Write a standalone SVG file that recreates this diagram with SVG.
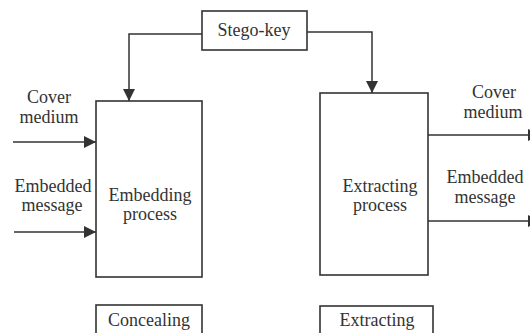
<svg xmlns="http://www.w3.org/2000/svg" width="530" height="333" viewBox="0 0 530 333">
<defs>
<marker id="ah" viewBox="0 0 12 12" refX="12" refY="6" markerWidth="12" markerHeight="12" markerUnits="userSpaceOnUse" orient="auto">
<path d="M0,0 L12,6 L0,12 Z" fill="#333"/>
</marker>
</defs>
<g id="connectors" fill="none" stroke="#333" stroke-width="1.5">
<path d="M202,34 H129 V101" marker-end="url(#ah)"/>
<path d="M307,32 H372 V93" marker-end="url(#ah)"/>
<path d="M13,142 H96" marker-end="url(#ah)"/>
<path d="M14,232 H96" marker-end="url(#ah)"/>
<path d="M428,135 H540" marker-end="url(#ah)"/>
<path d="M428,221 H540" marker-end="url(#ah)"/>
</g>
<g id="stego-key">
<rect x="202" y="11" width="105" height="39" fill="#fff" stroke="#333" stroke-width="1.6"/>
<text x="254" y="36" font-family="Liberation Serif" font-size="18" fill="#333" text-anchor="middle">Stego-key</text>
</g>
<g id="embedding">
<rect x="96" y="101" width="106" height="176" fill="#fff" stroke="#333" stroke-width="1.6"/>
<text x="150" y="201" font-family="Liberation Serif" font-size="18" fill="#333" text-anchor="middle">Embedding</text>
<text x="150" y="220" font-family="Liberation Serif" font-size="18" fill="#333" text-anchor="middle">process</text>
</g>
<g id="extracting">
<rect x="320" y="93" width="108" height="182" fill="#fff" stroke="#333" stroke-width="1.6"/>
<text x="380" y="192" font-family="Liberation Serif" font-size="18" fill="#333" text-anchor="middle">Extracting</text>
<text x="380" y="211" font-family="Liberation Serif" font-size="18" fill="#333" text-anchor="middle">process</text>
</g>
<g id="input-labels">
<text x="49" y="103" font-family="Liberation Serif" font-size="18" fill="#333" text-anchor="middle">Cover</text>
<text x="49" y="123" font-family="Liberation Serif" font-size="18" fill="#333" text-anchor="middle">medium</text>
<text x="53" y="192" font-family="Liberation Serif" font-size="18" fill="#333" text-anchor="middle">Embedded</text>
<text x="52" y="211" font-family="Liberation Serif" font-size="18" fill="#333" text-anchor="middle">message</text>
</g>
<g id="output-labels">
<text x="494" y="98" font-family="Liberation Serif" font-size="18" fill="#333" text-anchor="middle">Cover</text>
<text x="493" y="118" font-family="Liberation Serif" font-size="18" fill="#333" text-anchor="middle">medium</text>
<text x="485" y="183" font-family="Liberation Serif" font-size="18" fill="#333" text-anchor="middle">Embedded</text>
<text x="485" y="203" font-family="Liberation Serif" font-size="18" fill="#333" text-anchor="middle">message</text>
</g>
<g id="concealing">
<rect x="96" y="305" width="106" height="40" fill="#fff" stroke="#333" stroke-width="1.6"/>
<text x="149" y="326" font-family="Liberation Serif" font-size="18" fill="#333" text-anchor="middle">Concealing</text>
</g>
<g id="extracting-label">
<rect x="320" y="306" width="113" height="40" fill="#fff" stroke="#333" stroke-width="1.6"/>
<text x="377" y="326" font-family="Liberation Serif" font-size="18" fill="#333" text-anchor="middle">Extracting</text>
</g>
</svg>
